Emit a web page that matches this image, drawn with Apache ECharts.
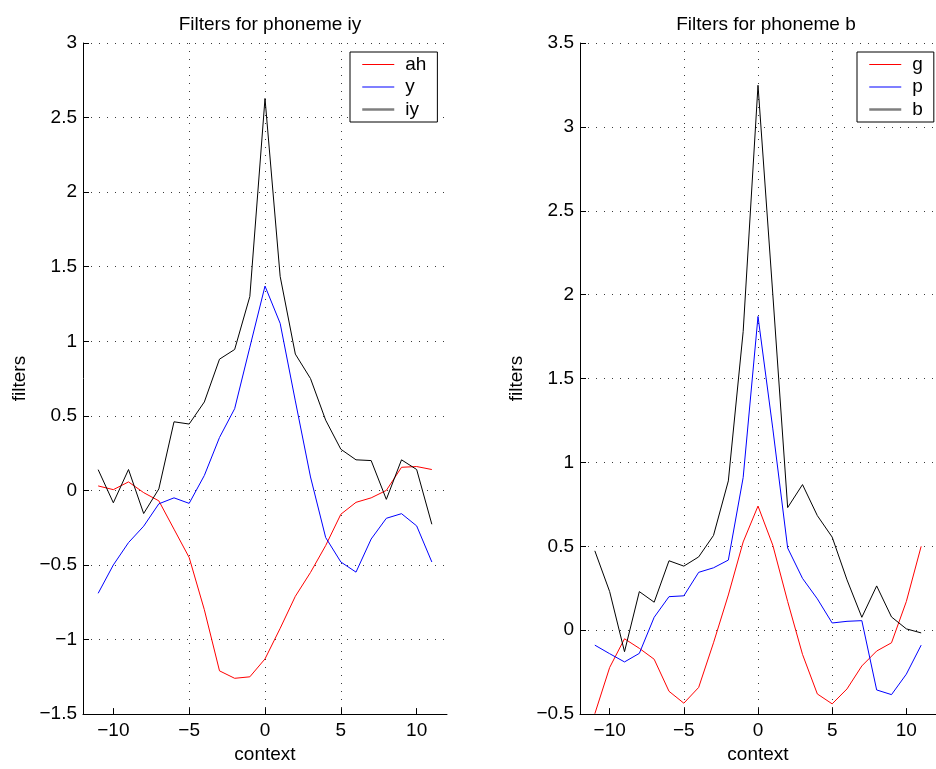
<!DOCTYPE html>
<html>
<head>
<meta charset="utf-8">
<script src="https://cdn.jsdelivr.net/npm/echarts@6/dist/echarts.min.js"></script>
<style>
html,body{margin:0;padding:0;background:#fff;}
#chart{width:936px;height:769px;}
</style>
</head>
<body>
<div id="chart"></div>
<script>
// context positions
var contexts = [-11,-10,-9,-8,-7,-6,-5,-4,-3,-2,-1,0,1,2,3,4,5,6,7,8,9,10,11];

// Left panel: Filters for phoneme iy
var ahValues = [0.03,0.005,0.057,-0.015,-0.07,-0.26,-0.45,-0.80,-1.21,-1.26,-1.25,-1.13,-0.925,-0.71,-0.55,-0.37,-0.16,-0.08,-0.05,0.0,0.155,0.16,0.14];
var yValues  = [-0.69,-0.50,-0.35,-0.24,-0.09,-0.05,-0.087,0.10,0.355,0.548,0.96,1.37,1.12,0.60,0.09,-0.316,-0.48,-0.548,-0.326,-0.187,-0.156,-0.238,-0.48];
var iyValues = [0.139,-0.083,0.14,-0.155,0.01,0.46,0.445,0.593,0.88,0.945,1.30,2.628,1.435,0.914,0.75,0.471,0.276,0.205,0.20,-0.06,0.205,0.14,-0.227];

// Right panel: Filters for phoneme b
var gValues = [-0.498,-0.222,-0.051,-0.108,-0.173,-0.364,-0.435,-0.341,-0.075,0.21,0.526,0.74,0.506,0.171,-0.144,-0.38,-0.439,-0.35,-0.213,-0.124,-0.075,0.171,0.5];
var pValues = [-0.089,-0.14,-0.189,-0.138,0.077,0.20,0.205,0.345,0.372,0.418,0.91,1.87,1.2,0.49,0.309,0.187,0.043,0.053,0.057,-0.356,-0.384,-0.262,-0.089];
var bValues = [0.473,0.23,-0.128,0.23,0.167,0.414,0.382,0.437,0.565,0.89,1.78,3.248,2.0,0.731,0.868,0.683,0.555,0.30,0.077,0.264,0.079,0.008,-0.016];

var titles = ['Filters for phoneme iy', 'Filters for phoneme b'];
var xTicks = [-10,-5,0,5,10];
var xName = 'context';
var yName = 'filters';

var FONT = '"Liberation Sans", Arial, Helvetica, sans-serif';
var FS = 19;

function pairs(vals){ return contexts.map(function(x,i){ return [x, vals[i]]; }); }
function fmt(v){
  var s = String(Math.round(v*1000)/1000);
  return s.replace('-', '\u2212');
}

var chart = echarts.init(document.getElementById('chart'), null, {renderer:'canvas'});

function xAxisCfg(gi){
  return {
    gridIndex: gi, type:'value', min:-12, max:12,
    name: xName, nameLocation:'middle', nameGap:30,
    nameTextStyle:{fontFamily:FONT, fontSize:FS, color:'#000'},
    axisLine:{show:true, onZero:false, lineStyle:{color:'#000', width:1}},
    axisTick:{show:true, inside:true, length:6, lineStyle:{color:'#000'}, customValues: xTicks},
    axisLabel:{show:true, margin:7, fontFamily:FONT, fontSize:FS, color:'#000',
      customValues: xTicks,
      formatter:function(v){ return (xTicks.indexOf(v) >= 0) ? fmt(v) : ''; }},
    splitLine:{show:true, showMinLine:false, showMaxLine:false, lineStyle:{color:'#3a3a3a', width:1, type:[1,7]}}
  };
}
function yAxisCfg(gi, mn, mx){
  return {
    gridIndex: gi, type:'value', min:mn, max:mx, interval:0.5,
    name: yName, nameLocation:'middle', nameGap:54, nameRotate:90,
    nameTextStyle:{fontFamily:FONT, fontSize:FS, color:'#000'},
    axisLine:{show:true, onZero:false, lineStyle:{color:'#000', width:1}},
    axisTick:{show:true, inside:true, length:6, lineStyle:{color:'#000'}},
    axisLabel:{show:true, margin:6, fontFamily:FONT, fontSize:FS, color:'#000', formatter:fmt},
    splitLine:{show:true, showMinLine:false, showMaxLine:true, lineStyle:{color:'#3a3a3a', width:1, type:[1,7]}}
  };
}
function lineSeries(name, vals, color, gi){
  return {
    name:name, type:'line', xAxisIndex:gi, yAxisIndex:gi,
    data: pairs(vals), symbol:'none', showSymbol:false,
    lineStyle:{color:color, width:1}, itemStyle:{color:color},
    clip:true, silent:true, animation:false, z: 3
  };
}
function legendCfg(left, names){
  return {
    show:true, orient:'vertical', left:left, top:52,
    backgroundColor:'#fff', borderColor:'#000', borderWidth:1, borderRadius:0,
    padding:[3,11,3,11], itemGap:3.5, itemWidth:32, itemHeight:14,
    selectedMode:false,
    itemStyle:{opacity:0, borderWidth:0},
    textStyle:{fontFamily:FONT, fontSize:FS, lineHeight:19, color:'#000', padding:[0,0,0,6]},
    data:[
      {name:names[0], itemStyle:{opacity:0, borderWidth:0}, lineStyle:{color:'#ff0000', width:1.2}},
      {name:names[1], itemStyle:{opacity:0, borderWidth:0}, lineStyle:{color:'#0000ff', width:1.2}},
      {name:names[2], itemStyle:{opacity:0, borderWidth:0}, lineStyle:{color:'#7f7f7f', width:2.5}}
    ]
  };
}

var option = {
  backgroundColor:'#fff',
  animation:false,
  title:[
    {text:titles[0], left:265, top:10, textAlign:'center', textStyle:{fontFamily:FONT, fontSize:FS, fontWeight:'normal', color:'#000'}},
    {text:titles[1], left:761, top:10, textAlign:'center', textStyle:{fontFamily:FONT, fontSize:FS, fontWeight:'normal', color:'#000'}}
  ],
  grid:[
    {left:83, top:43, width:364, height:677, containLabel:false},
    {left:580, top:43, width:362, height:677, containLabel:false}
  ],
  xAxis:[xAxisCfg(0), xAxisCfg(1)],
  yAxis:[yAxisCfg(0,-1.5,3), yAxisCfg(1,-0.5,3.5)],
  legend:[legendCfg(350, ['ah','y','iy']), legendCfg(857, ['g','p','b'])],
  series:[
    lineSeries('ah', ahValues, '#ff0000', 0),
    lineSeries('y', yValues, '#0000ff', 0),
    lineSeries('iy', iyValues, '#000000', 0),
    lineSeries('g', gValues, '#ff0000', 1),
    lineSeries('p', pValues, '#0000ff', 1),
    lineSeries('b', bValues, '#000000', 1)
  ]
};
chart.setOption(option);
</script>
</body>
</html>
